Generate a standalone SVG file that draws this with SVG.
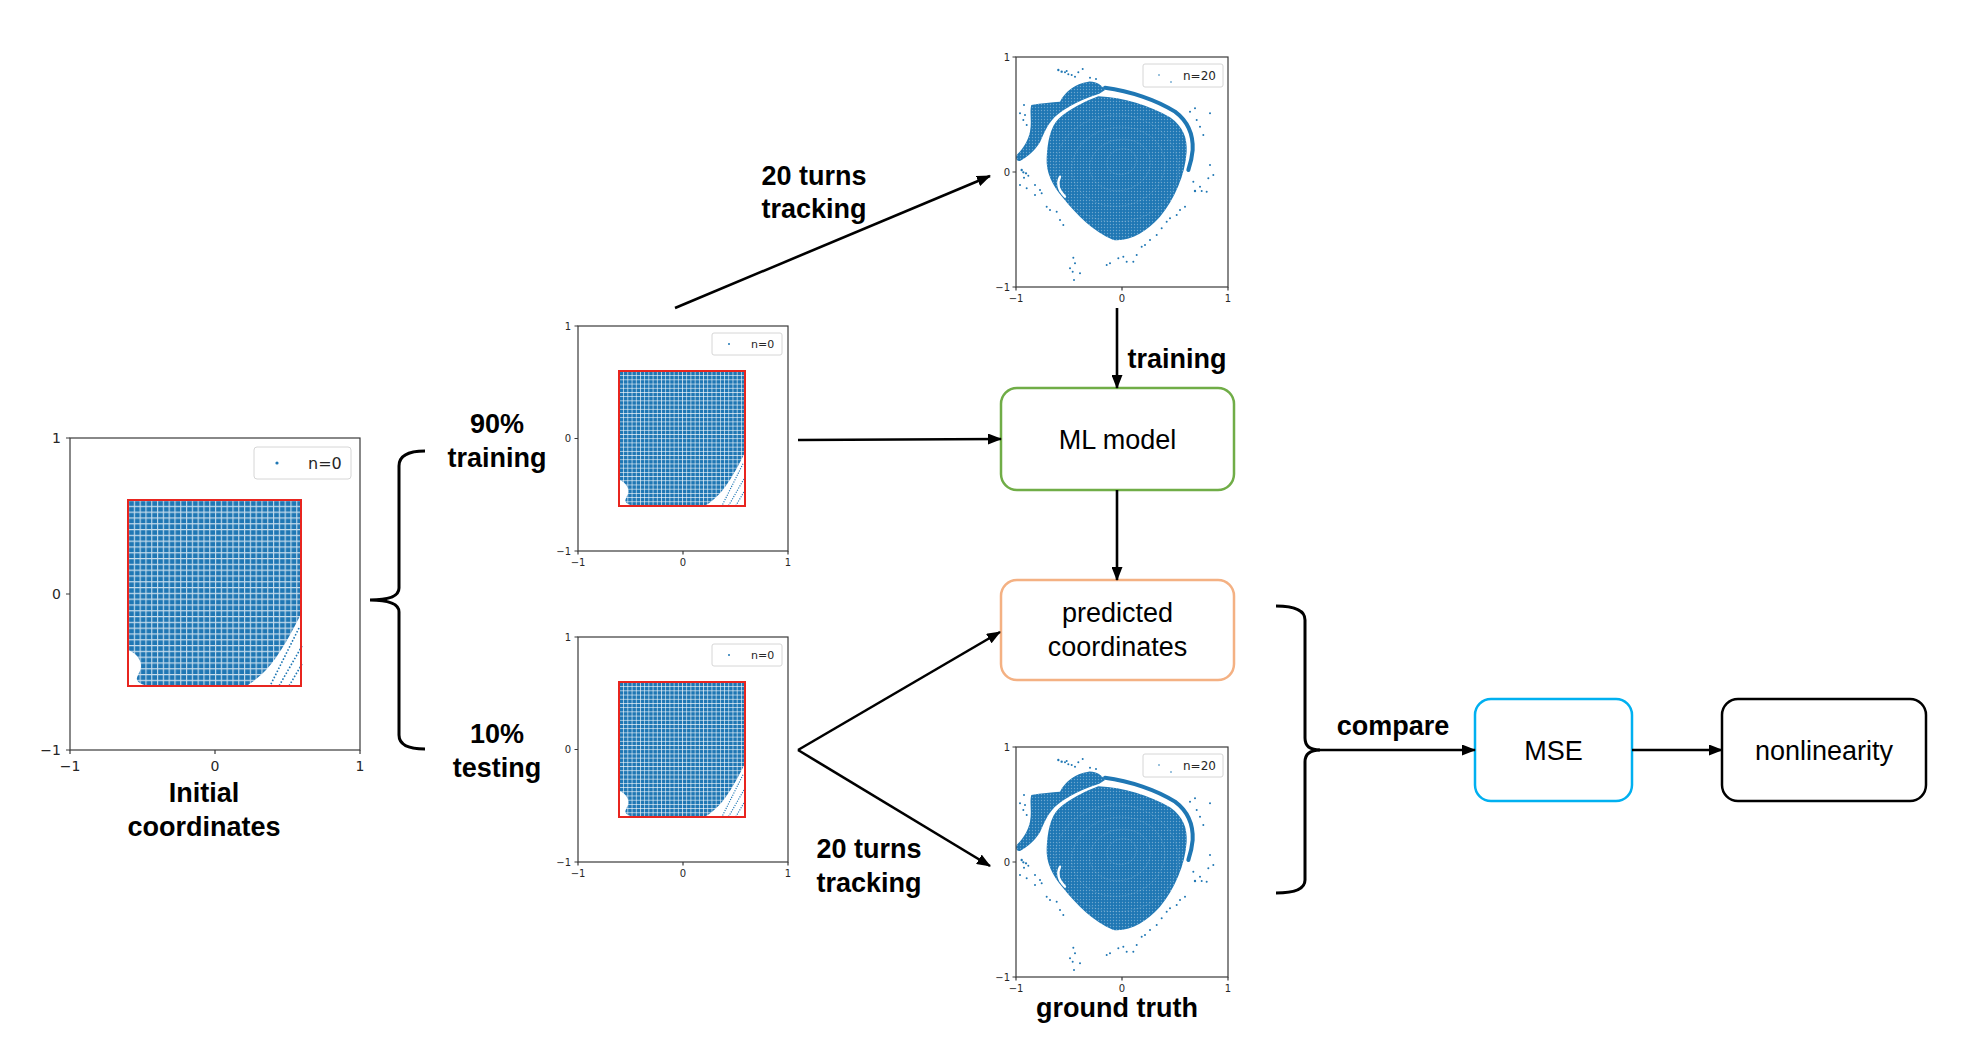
<svg xmlns="http://www.w3.org/2000/svg" xmlns:xlink="http://www.w3.org/1999/xlink" width="1972" height="1042" viewBox="0 0 1972 1042">
<style>
.lbl{font-family:"Liberation Sans",Arial,sans-serif;font-weight:bold;font-size:27px;fill:#000;text-anchor:middle}
.box{fill:#fff;stroke-width:2.5}
.boxt{font-family:"Liberation Sans",Arial,sans-serif;font-size:27px;fill:#000;text-anchor:middle}
.ax{fill:none;stroke:#3a3a3a;stroke-width:1.2}
.tk{font-family:"DejaVu Sans",sans-serif;fill:#262626}
.leg{fill:#fff;stroke:#d6d6d6;stroke-width:1}
.red{fill:none;stroke:#e8251f;stroke-width:2}
.conn{fill:none;stroke:#000;stroke-width:2.6}
.brace{fill:none;stroke:#000;stroke-width:3}
.dot{fill:#1f77b4}
.swirl{fill:none;stroke:#fff;stroke-opacity:0.16;stroke-width:2.5;stroke-dasharray:6 3}
</style>
<defs>
<marker id="ah" markerUnits="userSpaceOnUse" markerWidth="14" markerHeight="11" refX="13" refY="5.5" orient="auto">
<path d="M0,0 L14,5.5 L0,11 Z" fill="#000"/>
</marker>
<pattern id="grid" patternUnits="userSpaceOnUse" width="5.8" height="5.8">
<path d="M0.6,0 V5.8 M0,0.6 H5.8" stroke="#fff" stroke-width="1.1" stroke-opacity="0.75"/>
</pattern>
<pattern id="tex" patternUnits="userSpaceOnUse" width="9" height="9">
<circle cx="4.5" cy="4.5" r="2" fill="#fff" fill-opacity="0.35"/>
</pattern>
<path id="body" d="M265,124 C340,127 420,152 480,187 C520,215 532,250 530,290 C525,360 495,430 450,485 C410,530 360,560 310,555 C250,530 200,480 160,430 C125,390 108,350 110,310 C112,260 122,215 145,192 C175,165 220,140 265,124 Z"/>
<clipPath id="bodyclip"><use xlink:href="#body"/></clipPath>
<g id="n0">
<rect x="0" y="0" width="174" height="186" fill="#1f77b4"/>
<rect x="0" y="0" width="174" height="186" fill="url(#grid)"/>
<path d="M0,150 C6,152 13,158 13,166 C13,172 8,176 9,180 C11,184 18,186 24,186 L0,186 Z" fill="#fff"/>
<path d="M174,112 C165,130 152,155 138,170 C130,178 124,183 118,186 L174,186 Z" fill="#fff"/>
<path d="M171,128 L142,186 M174,146 L151,186 M174,164 L161,186" stroke="#1f77b4" stroke-width="1.6" stroke-dasharray="1.6 1.8" fill="none"/>
<path d="M172,26 L174,24 L174,32 Z" fill="#fff"/>
</g>
<g id="n20">
<use xlink:href="#body" fill="#1f77b4"/>
<use xlink:href="#body" fill="url(#tex)"/>
<g clip-path="url(#bodyclip)">
<ellipse class="swirl" cx="335" cy="320" rx="45" ry="38" transform="rotate(-20 335 320)"/>
<ellipse class="swirl" cx="330" cy="330" rx="92" ry="76" transform="rotate(-15 330 330)"/>
<ellipse class="swirl" cx="325" cy="335" rx="140" ry="118" transform="rotate(-10 325 335)"/>
<ellipse class="swirl" cx="320" cy="340" rx="185" ry="160"/>
</g>
<path d="M22,298 C40,280 55,255 60,230 C66,200 58,170 64,150 C95,143 125,143 150,140 C165,110 195,86 235,80 C258,78 275,90 285,105 L268,116 C220,130 170,155 135,185 C110,210 100,240 90,262 C75,287 50,308 30,318 C18,320 15,305 22,298 Z" fill="#1f77b4"/>
<path d="M22,298 C40,280 55,255 60,230 C66,200 58,170 64,150 C95,143 125,143 150,140 C165,110 195,86 235,80 C258,78 275,90 285,105 L268,116 C220,130 170,155 135,185 C110,210 100,240 90,262 C75,287 50,308 30,318 C18,320 15,305 22,298 Z" fill="url(#tex)"/>
<path d="M285,98 C360,108 440,135 495,170 C535,200 550,240 548,285 C546,310 540,330 535,345" fill="none" stroke="#1f77b4" stroke-width="12" stroke-linecap="round"/>
<path d="M150,365 C140,385 145,405 165,425" fill="none" stroke="#fff" stroke-width="7" stroke-linecap="round"/>
<g class="dot">
<circle cx="145" cy="45" r="3.5"/><circle cx="155" cy="50" r="3.5"/><circle cx="165" cy="52" r="3"/><circle cx="175" cy="58" r="3"/>
<circle cx="185" cy="60" r="3"/><circle cx="195" cy="65" r="3"/><circle cx="205" cy="52" r="3"/><circle cx="218" cy="42" r="3"/>
<circle cx="170" cy="48" r="3"/><circle cx="240" cy="68" r="3"/><circle cx="258" cy="72" r="3"/>
<circle cx="42" cy="150" r="3"/><circle cx="30" cy="175" r="3"/><circle cx="45" cy="180" r="3"/><circle cx="40" cy="195" r="3"/>
<circle cx="50" cy="210" r="3"/><circle cx="35" cy="345" r="3.5"/><circle cx="40" cy="352" r="3.5"/><circle cx="48" cy="355" r="3.5"/>
<circle cx="55" cy="362" r="3"/><circle cx="42" cy="368" r="3"/><circle cx="30" cy="390" r="3"/><circle cx="50" cy="400" r="3"/>
<circle cx="75" cy="390" r="3"/><circle cx="90" cy="405" r="3"/><circle cx="95" cy="415" r="3"/><circle cx="75" cy="420" r="3"/>
<circle cx="110" cy="455" r="3"/><circle cx="120" cy="465" r="3"/><circle cx="140" cy="470" r="3"/><circle cx="150" cy="495" r="3"/>
<circle cx="160" cy="510" r="3"/><circle cx="190" cy="608" r="3"/><circle cx="195" cy="625" r="3"/><circle cx="180" cy="640" r="3"/>
<circle cx="188" cy="650" r="3"/><circle cx="192" cy="675" r="3"/><circle cx="210" cy="655" r="3"/>
<circle cx="290" cy="630" r="3"/><circle cx="300" cy="625" r="3"/><circle cx="325" cy="610" r="3"/><circle cx="340" cy="605" r="3"/>
<circle cx="350" cy="620" r="3"/><circle cx="370" cy="620" r="3"/><circle cx="380" cy="600" r="3"/><circle cx="395" cy="575" r="3"/>
<circle cx="405" cy="570" r="3"/><circle cx="420" cy="555" r="3"/><circle cx="440" cy="540" r="3"/><circle cx="455" cy="520" r="3"/>
<circle cx="470" cy="500" r="3"/><circle cx="480" cy="490" r="3"/><circle cx="500" cy="480" r="3"/><circle cx="510" cy="465" r="3"/>
<circle cx="525" cy="455" r="3"/><circle cx="540" cy="170" r="3"/><circle cx="555" cy="160" r="3"/><circle cx="600" cy="175" r="3"/>
<circle cx="560" cy="195" r="3"/><circle cx="570" cy="215" r="3"/><circle cx="580" cy="240" r="3"/><circle cx="600" cy="330" r="3"/>
<circle cx="610" cy="360" r="3"/><circle cx="595" cy="370" r="3"/><circle cx="570" cy="395" r="3"/><circle cx="555" cy="408" r="3.5"/>
<circle cx="575" cy="408" r="3"/><circle cx="590" cy="410" r="3"/><circle cx="550" cy="380" r="3"/>
</g>
</g>
</defs>

<!-- Initial coordinates plot -->
<g id="plot-initial">
<use xlink:href="#n0" transform="translate(128,500)"/>
<rect class="red" x="128" y="500" width="173" height="186"/>
<rect class="ax" x="70" y="438" width="290" height="312"/>
<path class="ax" d="M70,438 h-4 M70,594 h-4 M70,750 h-4 M70,750 v4 M215,750 v4 M360,750 v4"/>
<g class="tk" font-size="14" text-anchor="end">
<text x="61" y="443">1</text><text x="61" y="599">0</text><text x="61" y="755">−1</text>
</g>
<g class="tk" font-size="14" text-anchor="middle">
<text x="70" y="771">−1</text><text x="215" y="771">0</text><text x="360" y="771">1</text>
</g>
<rect class="leg" x="254" y="447" width="97" height="32" rx="3"/>
<circle class="dot" cx="277" cy="463" r="1.6"/>
<text class="tk" x="308" y="469" font-size="16">n=0</text>
<text class="lbl" x="204" y="802">Initial</text>
<text class="lbl" x="204" y="836">coordinates</text>
</g>

<!-- training split plot -->
<g id="plot-train">
<use xlink:href="#n0" transform="translate(619,371) scale(0.725)"/>
<rect class="red" x="619" y="371" width="126" height="135"/>
<rect class="ax" x="578" y="326" width="210" height="225"/>
<path class="ax" d="M578,326 h-3.5 M578,438.5 h-3.5 M578,551 h-3.5 M578,551 v3.5 M683,551 v3.5 M788,551 v3.5"/>
<g class="tk" font-size="10" text-anchor="end">
<text x="571" y="330">1</text><text x="571" y="442">0</text><text x="571" y="555">−1</text>
</g>
<g class="tk" font-size="10" text-anchor="middle">
<text x="578" y="566">−1</text><text x="683" y="566">0</text><text x="788" y="566">1</text>
</g>
<rect class="leg" x="712" y="333" width="70" height="22" rx="2"/>
<circle class="dot" cx="729" cy="344" r="1"/>
<text class="tk" x="751" y="348" font-size="11">n=0</text>
</g>

<!-- testing split plot -->
<g id="plot-test">
<use xlink:href="#n0" transform="translate(619,682) scale(0.725)"/>
<rect class="red" x="619" y="682" width="126" height="135"/>
<rect class="ax" x="578" y="637" width="210" height="225"/>
<path class="ax" d="M578,637 h-3.5 M578,749.5 h-3.5 M578,862 h-3.5 M578,862 v3.5 M683,862 v3.5 M788,862 v3.5"/>
<g class="tk" font-size="10" text-anchor="end">
<text x="571" y="641">1</text><text x="571" y="753">0</text><text x="571" y="866">−1</text>
</g>
<g class="tk" font-size="10" text-anchor="middle">
<text x="578" y="877">−1</text><text x="683" y="877">0</text><text x="788" y="877">1</text>
</g>
<rect class="leg" x="712" y="644" width="70" height="22" rx="2"/>
<circle class="dot" cx="729" cy="655" r="1"/>
<text class="tk" x="751" y="659" font-size="11">n=0</text>
</g>

<!-- n=20 tracked plot (top) -->
<g id="plot-tracked">
<use xlink:href="#n20" transform="translate(1010,55) scale(0.33333)"/>
<rect class="ax" x="1016" y="57" width="212" height="230"/>
<path class="ax" d="M1016,57 h-3.5 M1016,172 h-3.5 M1016,287 h-3.5 M1016,287 v3.5 M1122,287 v3.5 M1228,287 v3.5"/>
<g class="tk" font-size="10" text-anchor="end">
<text x="1010" y="61">1</text><text x="1010" y="176">0</text><text x="1010" y="291">−1</text>
</g>
<g class="tk" font-size="10" text-anchor="middle">
<text x="1016" y="302">−1</text><text x="1122" y="302">0</text><text x="1228" y="302">1</text>
</g>
<rect class="leg" x="1143" y="64" width="80" height="23" rx="2"/>
<circle class="dot" cx="1159" cy="75" r="0.8"/><circle class="dot" cx="1171" cy="82" r="0.8"/>
<text class="tk" x="1183" y="80" font-size="12">n=20</text>
</g>

<!-- n=20 ground truth plot (bottom) -->
<g id="plot-ground-truth">
<use xlink:href="#n20" transform="translate(1010,745) scale(0.33333)"/>
<rect class="ax" x="1016" y="747" width="212" height="230"/>
<path class="ax" d="M1016,747 h-3.5 M1016,862 h-3.5 M1016,977 h-3.5 M1016,977 v3.5 M1122,977 v3.5 M1228,977 v3.5"/>
<g class="tk" font-size="10" text-anchor="end">
<text x="1010" y="751">1</text><text x="1010" y="866">0</text><text x="1010" y="981">−1</text>
</g>
<g class="tk" font-size="10" text-anchor="middle">
<text x="1016" y="992">−1</text><text x="1122" y="992">0</text><text x="1228" y="992">1</text>
</g>
<rect class="leg" x="1143" y="754" width="80" height="23" rx="2"/>
<circle class="dot" cx="1159" cy="765" r="0.8"/><circle class="dot" cx="1171" cy="772" r="0.8"/>
<text class="tk" x="1183" y="770" font-size="12">n=20</text>
<text class="lbl" x="1117" y="1017">ground truth</text>
</g>

<!-- process boxes -->
<g id="node-ml">
<rect class="box" x="1001" y="388" width="233" height="102" rx="16" stroke="#70ad47"/>
<text class="boxt" x="1117.5" y="449">ML model</text>
</g>
<g id="node-pred">
<rect class="box" x="1001" y="580" width="233" height="100" rx="16" stroke="#f4b183"/>
<text class="boxt" x="1117.5" y="622">predicted</text>
<text class="boxt" x="1117.5" y="656">coordinates</text>
</g>
<g id="node-mse">
<rect class="box" x="1475" y="699" width="157" height="102" rx="16" stroke="#00b0f0"/>
<text class="boxt" x="1553.5" y="760">MSE</text>
</g>
<g id="node-nonlinearity">
<rect class="box" x="1722" y="699" width="204" height="102" rx="16" stroke="#000"/>
<text class="boxt" x="1824" y="760">nonlinearity</text>
</g>

<!-- labels -->
<g id="labels">
<text class="lbl" x="497" y="433">90%</text>
<text class="lbl" x="497" y="467">training</text>
<text class="lbl" x="497" y="743">10%</text>
<text class="lbl" x="497" y="777">testing</text>
<text class="lbl" x="814" y="185">20 turns</text>
<text class="lbl" x="814" y="218">tracking</text>
<text class="lbl" x="869" y="858">20 turns</text>
<text class="lbl" x="869" y="892">tracking</text>
<text class="lbl" x="1177" y="368">training</text>
<text class="lbl" x="1393" y="735">compare</text>
</g>

<!-- connectors -->
<g id="connectors">
<path class="brace" d="M425,451 Q399,451 399,466 L399,588 Q399,600 370,600 Q399,600 399,612 L399,735 Q399,749 425,749"/>
<path class="brace" d="M1276,606 Q1305,606 1305,620 L1305,738 Q1305,750 1320,750 Q1305,750 1305,762 L1305,880 Q1305,893 1276,893"/>
<path class="conn" d="M675,308 L990,176" marker-end="url(#ah)"/>
<path class="conn" d="M798,440 L1001,439" marker-end="url(#ah)"/>
<path class="conn" d="M1117,308 L1117,388" marker-end="url(#ah)"/>
<path class="conn" d="M1117,490 L1117,580" marker-end="url(#ah)"/>
<path class="conn" d="M798,750 L1000,632" marker-end="url(#ah)"/>
<path class="conn" d="M798,750 L990,866" marker-end="url(#ah)"/>
<path class="conn" d="M1318,750 L1475,750" marker-end="url(#ah)"/>
<path class="conn" d="M1632,750 L1722,750" marker-end="url(#ah)"/>
</g>
</svg>
